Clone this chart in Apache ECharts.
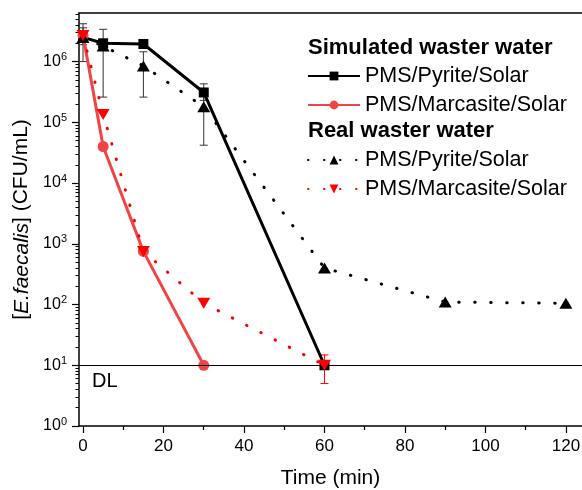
<!DOCTYPE html>
<html>
<head>
<meta charset="utf-8">
<script src="https://cdn.jsdelivr.net/npm/echarts@6/dist/echarts.min.js"></script>
<style>
  html, body { margin: 0; padding: 0; background: #fff; }
  #chart { width: 582px; height: 490px; }
</style>
</head>
<body>
<div id="chart"></div>
<script>
const FONT = '"Liberation Sans", Arial, Helvetica, sans-serif';

// Sampling times (min)
const timeSimPyrite = [0, 5, 15, 30, 60];
const timeSimMarcasite = [0, 5, 15, 30];
const timeRealPyrite = [0, 5, 15, 30, 60, 90, 120];
const timeRealMarcasite = [0, 5, 15, 30, 60];

// E. faecalis counts (CFU/mL)
const simPyrite = [2.5e6, 2.0e6, 1.95e6, 3.1e5, 10];
const simMarcasite = [2.7e6, 4.0e4, 7.5e2, 10];
const realPyrite = [2.5e6, 1.8e6, 8.5e5, 1.8e5, 4.0e2, 1.1e2, 1.05e2];
const realMarcasite = [2.7e6, 1.35e5, 7.5e2, 1.05e2, 10];

// Error bars: [time, lower, upper]
const errSimPyrite = [[0, 1.0e6, 4.2e6], [30, 2.3e5, 4.3e5]];
const errRealPyrite = [[0, 1.9e6, 3.6e6], [5, 2.6e5, 3.4e6], [15, 2.6e5, 1.45e6], [30, 4.2e4, 3.0e5]];
const errRealMarcasite = [[60, 5.0, 14.8]];

// Detection limit (CFU/mL)
const detectionLimit = 10;

// Axis ticks
const xMajorTicks = [0, 20, 40, 60, 80, 100, 120];
const xMinorTicks = [10, 30, 50, 70, 90, 110];
const yDecades = [0, 1, 2, 3, 4, 5, 6];

const X_MIN = -1, X_MAX = 124, Y_MIN = 0, Y_MAX = 6.8;

const lg = v => Math.log10(v);
const pairs = (xs, ys) => xs.map((x, i) => [x, lg(ys[i])]);

const yMinorTicks = [];
for (let n = 0; n <= 6; n++) {
  for (let k = 2; k <= 9; k++) {
    const v = n + Math.log10(k);
    if (v < Y_MAX) yMinorTicks.push(v);
  }
}

const BLACK = '#000000';
const RED_SOLID = '#f04545';
const RED = '#ff0000';

function errorBars(name, rows, color) {
  return {
    name: name,
    type: 'custom',
    silent: true,
    z: 1,
    encode: { x: 0, y: [1, 2] },
    data: rows.map(r => [r[0], lg(r[1]), lg(r[2])]),
    renderItem(params, api) {
      const lo = api.coord([api.value(0), api.value(1)]);
      const hi = api.coord([api.value(0), api.value(2)]);
      const w = 4;
      const st = { stroke: color, lineWidth: 1 };
      return {
        type: 'group',
        children: [
          { type: 'line', shape: { x1: lo[0], y1: lo[1], x2: hi[0], y2: hi[1] }, style: st },
          { type: 'line', shape: { x1: lo[0] - w, y1: lo[1], x2: lo[0] + w, y2: lo[1] }, style: st },
          { type: 'line', shape: { x1: hi[0] - w, y1: hi[1], x2: hi[0] + w, y2: hi[1] }, style: st }
        ]
      };
    }
  };
}

const dotted = [0.5, 15.5];
const axisLineStyle = { color: '#000', width: 1.5 };

const chart = echarts.init(document.getElementById('chart'), null, { renderer: 'canvas' });

chart.setOption({
  animation: false,
  backgroundColor: '#fff',
  textStyle: { fontFamily: FONT, color: '#000' },
  grid: { left: 79, top: 13, right: 0, bottom: 64, containLabel: false, outerBoundsMode: 'none' },
  title: [
    { text: 'Simulated waster water', left: 308, top: 37, padding: 0,
      textStyle: { fontFamily: FONT, fontSize: 22, fontWeight: 'bold', color: '#000' } },
    { text: 'Real waster water', left: 308, top: 120, padding: 0,
      textStyle: { fontFamily: FONT, fontSize: 22, fontWeight: 'bold', color: '#000' } }
  ],
  legend: [
    { left: 307, top: 65, orient: 'vertical', padding: 0, itemWidth: 52, itemHeight: 11, itemGap: 7,
      selectedMode: false, data: ['sim|PMS/Pyrite/Solar', 'sim|PMS/Marcasite/Solar'],
      formatter: n => n.split('|')[1],
      textStyle: { fontFamily: FONT, fontSize: 21.5, lineHeight: 20, color: '#000' } },
    { left: 307, top: 149, orient: 'vertical', padding: 0, itemWidth: 52, itemHeight: 11, itemGap: 7,
      selectedMode: false, data: ['real|PMS/Pyrite/Solar', 'real|PMS/Marcasite/Solar'],
      formatter: n => n.split('|')[1],
      textStyle: { fontFamily: FONT, fontSize: 21.5, lineHeight: 20, color: '#000' } }
  ],
  graphic: [
    { type: 'text', left: 92, top: 371, style: { text: 'DL', fontFamily: FONT, fontSize: 20, fill: '#000' } }
  ],
  xAxis: [
    {
      type: 'value', min: X_MIN, max: X_MAX, position: 'bottom',
      name: 'Time (min)', nameLocation: 'middle', nameGap: 42,
      nameTextStyle: { fontFamily: FONT, fontSize: 21, color: '#000' },
      axisLine: { show: true, onZero: false, lineStyle: axisLineStyle },
      axisTick: { show: true, customValues: xMajorTicks, length: 7, lineStyle: { color: '#000', width: 1.2 } },
      axisLabel: { show: true, customValues: xMajorTicks, margin: 12, fontFamily: FONT, fontSize: 17, color: '#000' },
      splitLine: { show: false }
    },
    {
      type: 'value', min: X_MIN, max: X_MAX, position: 'bottom',
      axisLine: { show: false, onZero: false },
      axisTick: { show: true, customValues: xMinorTicks, length: 4, lineStyle: { color: '#000', width: 1.2 } },
      axisLabel: { show: false },
      splitLine: { show: false }
    },
    {
      type: 'value', min: X_MIN, max: X_MAX, position: 'top',
      axisLine: { show: true, onZero: false, lineStyle: axisLineStyle },
      axisTick: { show: false }, axisLabel: { show: false }, splitLine: { show: false }
    }
  ],
  yAxis: [
    {
      type: 'value', min: Y_MIN, max: Y_MAX, position: 'left',
      name: '[{i|E.faecalis}] (CFU/mL)', nameLocation: 'middle', nameGap: 42,
      nameTextStyle: { fontFamily: FONT, fontSize: 21, color: '#000',
        rich: { i: { fontFamily: FONT, fontSize: 21, fontStyle: 'italic', color: '#000' } } },
      axisLine: { show: true, onZero: false, lineStyle: axisLineStyle },
      axisTick: { show: true, customValues: yDecades, length: 7, lineStyle: { color: '#000', width: 1.2 } },
      axisLabel: {
        show: true, customValues: yDecades, margin: 12,
        formatter: v => '{b|10}{s|' + Math.round(v) + '}',
        rich: {
          b: { fontFamily: FONT, fontSize: 16, color: '#000' },
          s: { fontFamily: FONT, fontSize: 11, color: '#000', padding: [0, 0, 9, 0] }
        }
      },
      splitLine: { show: false }
    },
    {
      type: 'value', min: Y_MIN, max: Y_MAX, position: 'left',
      axisLine: { show: false, onZero: false },
      axisTick: { show: true, customValues: yMinorTicks, length: 3.5, lineStyle: { color: '#000', width: 1 } },
      axisLabel: { show: false },
      splitLine: { show: false }
    }
  ],
  series: [
    errorBars('err-sim-pyrite', errSimPyrite, '#333333'),
    errorBars('err-real-pyrite', errRealPyrite, '#333333'),
    errorBars('err-real-marcasite', errRealMarcasite, RED),
    {
      name: 'sim|PMS/Pyrite/Solar', type: 'line', z: 2,
      data: pairs(timeSimPyrite, simPyrite),
      symbol: 'rect', symbolSize: 10,
      itemStyle: { color: BLACK },
      lineStyle: { color: BLACK, width: 3 },
      markLine: {
        silent: true, symbol: 'none', animation: false,
        label: { show: false },
        lineStyle: { color: '#000', width: 1, type: 'solid' },
        data: [{ yAxis: lg(detectionLimit) }]
      }
    },
    {
      name: 'sim|PMS/Marcasite/Solar', type: 'line', z: 3,
      data: pairs(timeSimMarcasite, simMarcasite),
      symbol: 'circle', symbolSize: 11,
      itemStyle: { color: RED_SOLID },
      lineStyle: { color: RED_SOLID, width: 3 }
    },
    {
      name: 'real|PMS/Pyrite/Solar', type: 'line', z: 4,
      data: pairs(timeRealPyrite, realPyrite),
      symbol: 'triangle', symbolSize: [13, 11],
      itemStyle: { color: BLACK },
      lineStyle: { color: BLACK, width: 3, type: dotted, cap: 'round' }
    },
    {
      name: 'real|PMS/Marcasite/Solar', type: 'line', z: 5,
      data: pairs(timeRealMarcasite, realMarcasite),
      symbol: 'triangle', symbolRotate: 180, symbolSize: [13, 11],
      itemStyle: { color: RED },
      lineStyle: { color: RED, width: 3, type: dotted, cap: 'round' }
    }
  ]
});
</script>
</body>
</html>
